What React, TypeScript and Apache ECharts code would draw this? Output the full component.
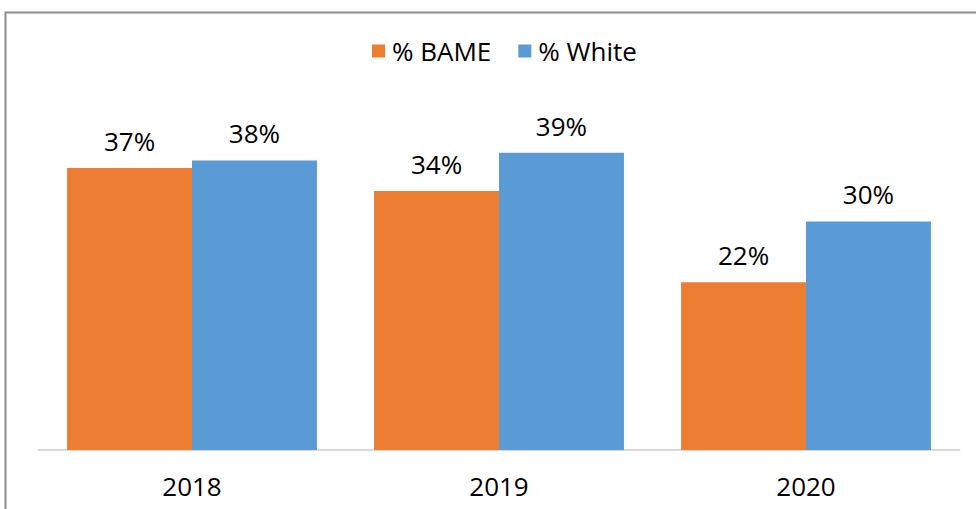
import React, { useEffect, useRef } from "react";
import * as echarts from "echarts";

const categories = ["2018", "2019", "2020"];
const bameValues = [37, 34, 22];
const whiteValues = [38, 39, 30];
const seriesNames = ["% BAME", "% White"];

export default function App() {
  const ref = useRef<HTMLDivElement>(null);
  useEffect(() => {
    if (!ref.current) return;
    const chart = echarts.init(ref.current, null, { renderer: "svg" });
    const labelStyle = {
      show: true,
      position: "top" as const,
      distance: 14,
      formatter: (p: any) => `${p.value}%`,
      fontFamily: "Open Sans",
      fontSize: 26,
      color: "#000",
    };
    chart.setOption({
      animation: false,
      backgroundColor: "#fff",
      graphic: [
        {
          type: "rect",
          shape: { x: 5.5, y: 12.5, width: 1000, height: 600 },
          style: { fill: "none", stroke: "#8c8c8c", lineWidth: 2 },
          silent: true,
        },
      ],
      legend: {
        data: seriesNames,
        top: 33,
        left: 367,
        itemWidth: 13,
        itemHeight: 13,
        itemGap: 27,
        icon: "rect",
        textStyle: {
          fontFamily: "Open Sans",
          fontSize: 26,
          color: "#000",
          padding: [0, 0, 0, 2],
        },
      },
      grid: { left: 38.5, right: 16.5, top: 69, bottom: 59 },
      xAxis: {
        type: "category",
        data: categories,
        axisLine: { lineStyle: { color: "#d9d9d9", width: 2 } },
        axisTick: { show: false },
        axisLabel: {
          margin: 23,
          fontFamily: "Open Sans",
          fontSize: 26,
          color: "#000",
        },
      },
      yAxis: {
        type: "value",
        min: 0,
        max: 50,
        show: false,
        splitLine: { show: false },
      },
      series: [
        {
          name: seriesNames[0],
          type: "bar",
          data: bameValues,
          itemStyle: { color: "#ED7D31" },
          barGap: "0%",
          barCategoryGap: "18.6%",
          label: labelStyle,
        },
        {
          name: seriesNames[1],
          type: "bar",
          data: whiteValues,
          itemStyle: { color: "#5B9BD5" },
          barGap: "0%",
          barCategoryGap: "18.6%",
          label: labelStyle,
        },
      ],
    });
    return () => chart.dispose();
  }, []);
  return (
    <div
      ref={ref}
      style={{ position: "fixed", left: 0, top: 0, width: 976, height: 509 }}
    />
  );
}
